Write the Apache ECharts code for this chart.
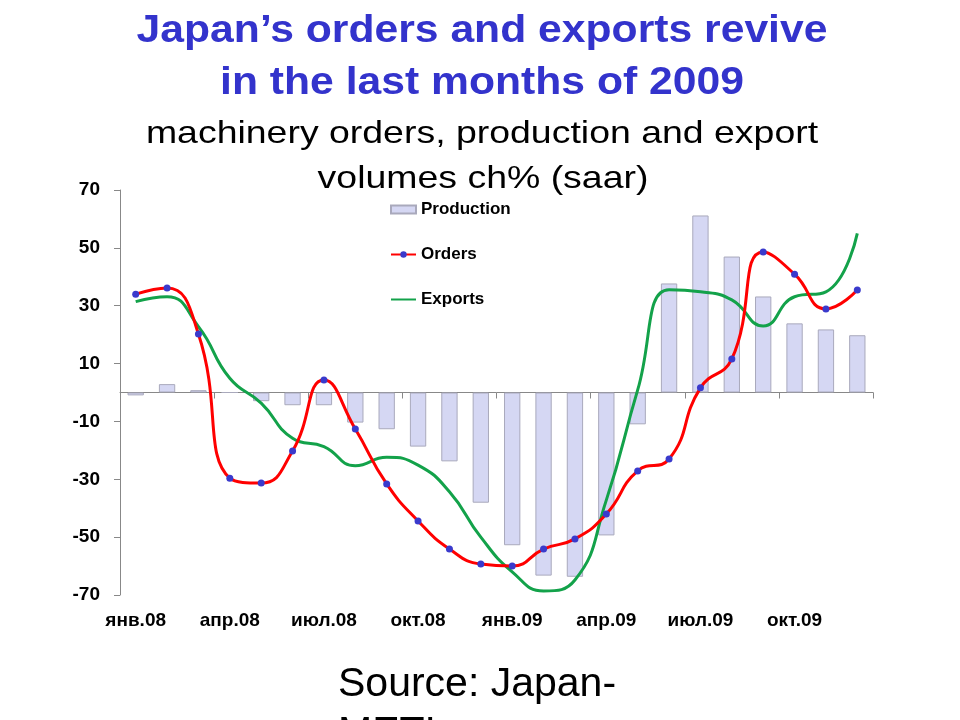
<!DOCTYPE html>
<html>
<head>
<meta charset="utf-8">
<script src="https://cdn.jsdelivr.net/npm/echarts@6/dist/echarts.min.js"></script>
<style>html,body{margin:0;padding:0;background:#fff;}#c{width:960px;height:720px;}</style>
</head>
<body>
<div id="c"></div>
<script>
const categories = ['янв.08','фев.08','мар.08','апр.08','май.08','июн.08','июл.08','авг.08','сен.08','окт.08','ноя.08','дек.08',
  'янв.09','фев.09','мар.09','апр.09','май.09','июн.09','июл.09','авг.09','сен.09','окт.09','ноя.09','дек.09'];
const production = [-1.0, 2.9, 0.8, 0.0, -3.0, -4.4, -4.4, -10.4, -12.7, -18.7, -23.8, -38.1,
  -52.8, -63.3, -63.7, -49.4, -11.0, 37.7, 61.2, 47.0, 33.2, 23.9, 21.8, 19.8];
const orders = [34.0, 36.1, 20.2, -29.6, -31.3, -20.2, 4.3, -12.6, -31.6, -44.4, -54.1, -59.3,
  -60.0, -54.1, -50.6, -42.0, -27.1, -23.0, 1.6, 11.6, 48.6, 40.9, 28.9, 35.4];
const exportsVol = [31.4, 33.1, 22.8, 4.9, -3.7, -15.8, -18.7, -25.3, -22.4, -25.1, -34.3, -50.0,
  -62.0, -68.6, -64.8, -37.2, 0.9, 35.5, 34.8, 32.0, 23.0, 33.1, 34.8, 55.0];
const yTicks = [-70, -50, -30, -10, 10, 30, 50, 70];
const titleLines = ['Japan\u2019s orders and exports revive', 'in the last months of 2009'];
const subtitleLines = ['machinery orders, production and export', 'volumes ch% (saar)'];
const sourceLines = ['Source: Japan-', 'METI'];

const FONT = 'Liberation Sans, Arial, sans-serif';
const chart = echarts.init(document.getElementById('c'));
const bold = {fontFamily: FONT, fontWeight: 'bold', fontSize: 19, color: '#000'};

function textEl(text, x, y, font, fill, scaleX, align) {
  return {type: 'text', x: x, y: y, scaleX: scaleX, silent: true,
    style: {text: text, font: font, fill: fill, align: align || 'center', verticalAlign: 'middle'}};
}

chart.setOption({
  animation: false,
  backgroundColor: '#fff',
  graphic: [
    textEl(titleLines[0], 482, 31, 'bold 39px ' + FONT, '#3333CC', 1.094),
    textEl(titleLines[1], 482, 83, 'bold 39px ' + FONT, '#3333CC', 1.094),
    textEl(subtitleLines[0], 482, 134, '32px ' + FONT, '#000', 1.17),
    textEl(subtitleLines[1], 483, 179, '32px ' + FONT, '#000', 1.17),
    textEl(sourceLines[0], 338, 685, '41px ' + FONT, '#000', 1.0, 'left'),
    textEl(sourceLines[1], 338, 734, '41px ' + FONT, '#000', 1.0, 'left')
  ],
  legend: {
    orient: 'vertical', left: 390, top: 201, padding: 0, itemGap: 28, itemWidth: 25, itemHeight: 8,
    textStyle: {fontFamily: FONT, fontWeight: 'bold', fontSize: 17, color: '#000'},
    data: [
      {name: 'Production', icon: 'rect'},
      {name: 'Orders'},
      {name: 'Exports', itemStyle: {opacity: 0}}
    ]
  },
  grid: {left: 120, right: 87, top: 190, bottom: 125, containLabel: false},
  xAxis: [
    {type: 'category', data: categories, boundaryGap: true,
     axisLine: {onZero: true, lineStyle: {color: '#888', width: 1}},
     axisTick: {show: true, interval: 2, length: 6, inside: false, lineStyle: {color: '#888'}},
     axisLabel: {show: false}, splitLine: {show: false}},
    {type: 'category', data: categories, boundaryGap: true, position: 'bottom',
     axisLine: {show: false, onZero: false}, axisTick: {show: false},
     axisLabel: Object.assign({interval: 2, margin: 16}, bold), splitLine: {show: false}}
  ],
  yAxis: {
    type: 'value', min: yTicks[0], max: yTicks[yTicks.length - 1], interval: 20,
    axisLine: {show: true, lineStyle: {color: '#888'}},
    axisTick: {show: true, length: 6, lineStyle: {color: '#888'}},
    axisLabel: Object.assign({margin: 20, formatter: v => String(v)}, bold),
    splitLine: {show: false}
  },
  series: [
    {name: 'Production', type: 'bar', xAxisIndex: 0, data: production, barWidth: '52%',
     itemStyle: {color: '#D5D7F3', borderColor: '#A9A9BC', borderWidth: 1}, z: 1},
    {name: 'Exports', type: 'line', xAxisIndex: 0, data: exportsVol, smooth: 0.5, showSymbol: false, symbol: 'none',
     lineStyle: {color: '#13A24A', width: 3}, itemStyle: {color: '#13A24A'}, z: 3},
    {name: 'Orders', type: 'line', xAxisIndex: 0, data: orders, smooth: 0.5, symbol: 'circle', symbolSize: 7,
     lineStyle: {color: '#FF0000', width: 3}, itemStyle: {color: '#3A3ACC', borderWidth: 0}, z: 4}
  ]
});
</script>
</body>
</html>
